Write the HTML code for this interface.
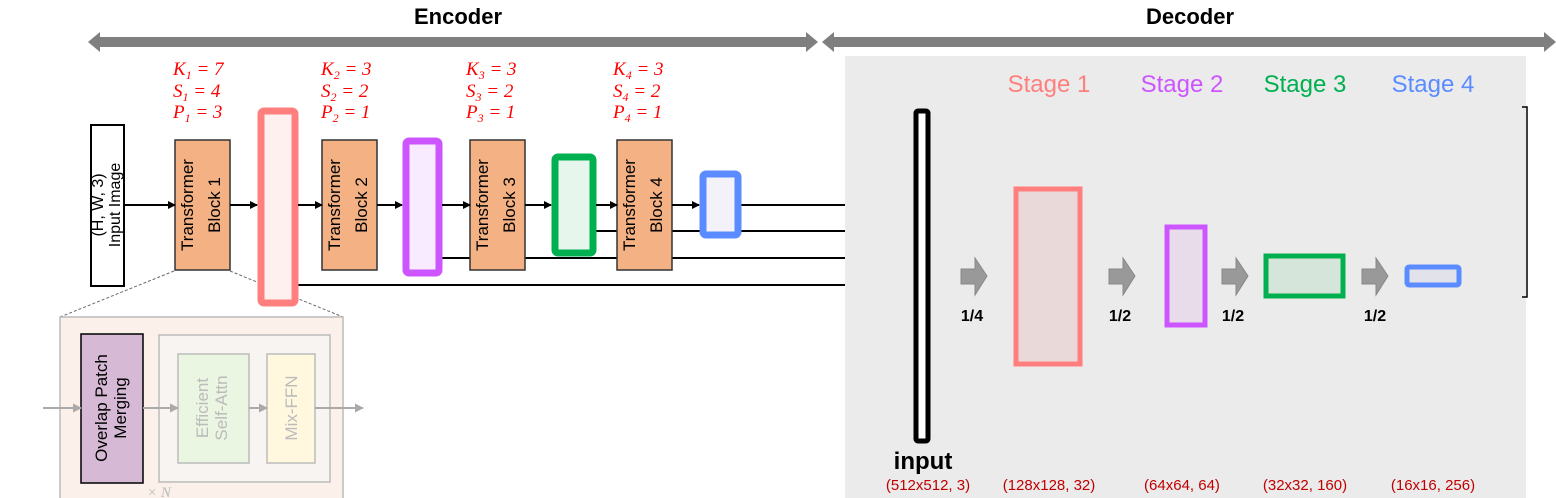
<!DOCTYPE html>
<html><head><meta charset="utf-8"><style>html,body{margin:0;padding:0;background:#fff}svg{display:block}</style></head>
<body>
<svg width="1556" height="498" viewBox="0 0 1556 498" xmlns="http://www.w3.org/2000/svg" font-family="Liberation Sans, sans-serif">
<defs>
<marker id="ab" markerWidth="8" markerHeight="8" refX="7" refY="4" orient="auto" markerUnits="userSpaceOnUse"><path d="M0,0 L8,4 L0,8z" fill="#000"/></marker>
<marker id="ag" markerWidth="9" markerHeight="9" refX="8" refY="4.5" orient="auto" markerUnits="userSpaceOnUse"><path d="M0,0 L9,4.5 L0,9z" fill="#aaa"/></marker>
</defs>
<text x="458" y="24" font-size="22" font-weight="bold" text-anchor="middle">Encoder</text>
<text x="1190" y="24" font-size="22" font-weight="bold" text-anchor="middle">Decoder</text>
<path d="M88,42 L100,32 L100,37 L806,37 L806,32 L818,42 L806,52 L806,47 L100,47 L100,52z" fill="#7f7f7f"/>
<path d="M822,42 L834,32 L834,37 L1544,37 L1544,32 L1556,42 L1544,52 L1544,47 L834,47 L834,52z" fill="#7f7f7f"/>
<rect x="845" y="56" width="681" height="442" fill="#ebebeb"/>
<g font-family="Liberation Serif, serif" font-style="italic" font-size="19" fill="#ff0000">
<text x="173" y="75">K<tspan font-size="12" dy="4">1</tspan><tspan dy="-4"> = 7</tspan></text>
<text x="173" y="97">S<tspan font-size="12" dy="4">1</tspan><tspan dy="-4"> = 4</tspan></text>
<text x="173" y="118">P<tspan font-size="12" dy="4">1</tspan><tspan dy="-4"> = 3</tspan></text>
<text x="321" y="75">K<tspan font-size="12" dy="4">2</tspan><tspan dy="-4"> = 3</tspan></text>
<text x="321" y="97">S<tspan font-size="12" dy="4">2</tspan><tspan dy="-4"> = 2</tspan></text>
<text x="321" y="118">P<tspan font-size="12" dy="4">2</tspan><tspan dy="-4"> = 1</tspan></text>
<text x="466" y="75">K<tspan font-size="12" dy="4">3</tspan><tspan dy="-4"> = 3</tspan></text>
<text x="466" y="97">S<tspan font-size="12" dy="4">3</tspan><tspan dy="-4"> = 2</tspan></text>
<text x="466" y="118">P<tspan font-size="12" dy="4">3</tspan><tspan dy="-4"> = 1</tspan></text>
<text x="613" y="75">K<tspan font-size="12" dy="4">4</tspan><tspan dy="-4"> = 3</tspan></text>
<text x="613" y="97">S<tspan font-size="12" dy="4">4</tspan><tspan dy="-4"> = 2</tspan></text>
<text x="613" y="118">P<tspan font-size="12" dy="4">4</tspan><tspan dy="-4"> = 1</tspan></text>
</g>
<g stroke="#000" stroke-width="2">
<line x1="741" y1="205" x2="845" y2="205"/>
<line x1="596" y1="231" x2="845" y2="231"/>
<line x1="442" y1="258" x2="845" y2="258"/>
<line x1="298" y1="285" x2="845" y2="285"/>
</g>
<g stroke="#666" stroke-width="1" stroke-dasharray="3,2">
<line x1="174" y1="271" x2="60" y2="317"/>
<line x1="230" y1="271" x2="343" y2="317"/>
</g>
<rect x="91" y="125" width="33" height="161" fill="#fff" stroke="#000" stroke-width="2"/>
<text transform="translate(104,205) rotate(-90)" font-size="16" text-anchor="middle"><tspan x="0" y="-1">(H, W, 3)</tspan><tspan x="0" y="16">Input Image</tspan></text>
<g fill="#f4b183" stroke="#333" stroke-width="1.5">
<rect x="175" y="140" width="55" height="130"/>
<rect x="322" y="140" width="55" height="130"/>
<rect x="470" y="140" width="55" height="130"/>
<rect x="617" y="140" width="55" height="130"/>
</g>
<g font-size="17" text-anchor="middle">
<text transform="translate(202,205) rotate(-90)"><tspan x="0" y="-9">Transformer</tspan><tspan x="0" y="18">Block 1</tspan></text>
<text transform="translate(349,205) rotate(-90)"><tspan x="0" y="-9">Transformer</tspan><tspan x="0" y="18">Block 2</tspan></text>
<text transform="translate(497,205) rotate(-90)"><tspan x="0" y="-9">Transformer</tspan><tspan x="0" y="18">Block 3</tspan></text>
<text transform="translate(644,205) rotate(-90)"><tspan x="0" y="-9">Transformer</tspan><tspan x="0" y="18">Block 4</tspan></text>
</g>
<rect x="261" y="111" width="34" height="192" rx="3" fill="#fff0f0" stroke="#ff7f7f" stroke-width="7"/>
<rect x="406" y="141" width="33" height="132" rx="3" fill="#f8eaff" stroke="#cc55ff" stroke-width="7"/>
<rect x="555" y="157" width="38" height="96" rx="3" fill="#e6f6ec" stroke="#00b050" stroke-width="7"/>
<rect x="703" y="174" width="35" height="61" rx="3" fill="#f2f2f8" stroke="#5b8cff" stroke-width="7"/>
<g stroke="#000" stroke-width="2" marker-end="url(#ab)">
<line x1="125" y1="205" x2="175" y2="205"/>
<line x1="230" y1="205" x2="257" y2="205"/>
<line x1="298" y1="205" x2="322" y2="205"/>
<line x1="377" y1="205" x2="402" y2="205"/>
<line x1="442" y1="205" x2="470" y2="205"/>
<line x1="525" y1="205" x2="551" y2="205"/>
<line x1="596" y1="205" x2="617" y2="205"/>
<line x1="672" y1="205" x2="699" y2="205"/>
</g>
<rect x="60" y="317" width="283" height="190" fill="#fbf0ea" stroke="#bbb" stroke-width="1.5"/>
<rect x="159" y="335" width="171" height="147" fill="#f8f4f2" stroke="#bbb" stroke-width="1.5"/>
<rect x="81" y="334" width="62" height="149" fill="#d5b9d5" stroke="#000" stroke-width="1.5"/>
<rect x="178" y="354" width="71" height="109" fill="#eaf5e2" stroke="#bbb" stroke-width="1.5"/>
<rect x="267" y="354" width="48" height="109" fill="#fff7de" stroke="#bbb" stroke-width="1.5"/>
<text transform="translate(112,408) rotate(-90)" font-size="17" text-anchor="middle"><tspan x="0" y="-5">Overlap Patch</tspan><tspan x="0" y="14">Merging</tspan></text>
<text transform="translate(213,408) rotate(-90)" font-size="17" text-anchor="middle" fill="#bbb"><tspan x="0" y="-5">Efficient</tspan><tspan x="0" y="14">Self-Attn</tspan></text>
<text transform="translate(291,408) rotate(-90)" font-size="17" text-anchor="middle" fill="#bbb"><tspan x="0" y="6">Mix-FFN</tspan></text>
<g stroke="#aaa" stroke-width="2" marker-end="url(#ag)">
<line x1="43" y1="408" x2="81" y2="408"/>
<line x1="143" y1="408" x2="178" y2="408"/>
<line x1="249" y1="408" x2="267" y2="408"/>
<line x1="315" y1="408" x2="363" y2="408"/>
</g>
<text x="147" y="497" font-family="Liberation Serif, serif" font-style="italic" font-size="15" fill="#bbb">× N</text>
<g font-size="24" text-anchor="middle">
<text x="1049" y="92" fill="#ff7f7f">Stage 1</text>
<text x="1182" y="92" fill="#cc55ff">Stage 2</text>
<text x="1305" y="92" fill="#00b050">Stage 3</text>
<text x="1433" y="92" fill="#5b8cff">Stage 4</text>
</g>
<rect x="916" y="111" width="12" height="330" rx="2" fill="#fff" stroke="#000" stroke-width="5"/>
<rect x="1016" y="189" width="64" height="175" fill="#ead9d9" stroke="#ff7f7f" stroke-width="5"/>
<rect x="1167" y="227" width="38" height="98" fill="#e8dcea" stroke="#cc55ff" stroke-width="5"/>
<rect x="1266" y="256" width="77" height="40" fill="#d6e5da" stroke="#00b050" stroke-width="5"/>
<rect x="1407" y="267" width="52" height="18" rx="2" fill="#e2e2ea" stroke="#5b8cff" stroke-width="5"/>
<g fill="#999" stroke="#888" stroke-width="1">
<path d="M961,269 L975,269 L975,258 L987,276 L975,295 L975,284 L961,284z"/>
<path d="M1109,269 L1123,269 L1123,258 L1135,276 L1123,295 L1123,284 L1109,284z"/>
<path d="M1222,269 L1236,269 L1236,258 L1248,276 L1236,295 L1236,284 L1222,284z"/>
<path d="M1362,269 L1376,269 L1376,258 L1388,276 L1376,295 L1376,284 L1362,284z"/>
</g>
<g font-size="16" font-weight="bold" text-anchor="middle">
<text x="972" y="321">1/4</text>
<text x="1120" y="321">1/2</text>
<text x="1233" y="321">1/2</text>
<text x="1375" y="321">1/2</text>
</g>
<text x="923" y="469" font-size="24" font-weight="bold" text-anchor="middle">input</text>
<g font-size="15" fill="#c00000" text-anchor="middle">
<text x="928" y="490">(512x512, 3)</text>
<text x="1049" y="490">(128x128, 32)</text>
<text x="1182" y="490">(64x64, 64)</text>
<text x="1305" y="490">(32x32, 160)</text>
<text x="1433" y="490">(16x16, 256)</text>
</g>
<path d="M1522,107 L1527,107 L1527,297 L1522,297" fill="none" stroke="#000" stroke-width="1.5"/>
</svg>
</body></html>
